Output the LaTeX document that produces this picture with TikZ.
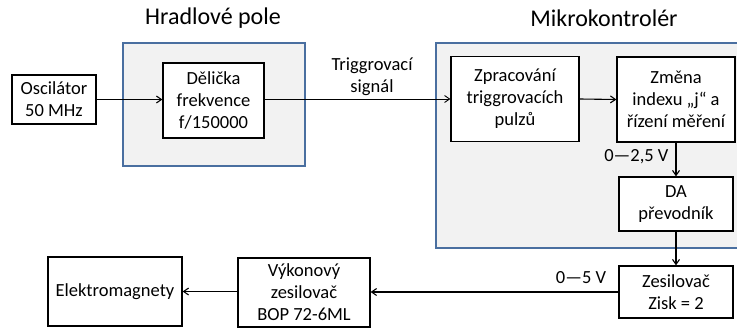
\documentclass[tikz,border=0pt]{standalone}
\usepackage{fontspec}
\setmainfont{Carlito}
\usepackage{tikz}
\usetikzlibrary{arrows.meta, positioning}

\definecolor{skupinaFill}{HTML}{F2F2F2}
\definecolor{skupinaDraw}{HTML}{4A6FA0}

\tikzset{
  blok/.style={draw=black, line width=1.3pt, fill=white, align=center,
    inner sep=0pt, font=\fontsize{18.5}{22}\selectfont},
  skupina/.style={draw=skupinaDraw, line width=1.3pt, fill=skupinaFill},
  nadpis/.style={font=\fontsize{24}{28}\selectfont},
  popis/.style={align=center, font=\fontsize{18.5}{22}\selectfont},
  sipka/.style={-{Straight Barb[length=5pt, width=7pt]}, line width=1.1pt},
}

\begin{document}
\begin{tikzpicture}[x=1pt, y=1pt]
    \useasboundingbox (0,0) rectangle (737,-329);

    % skupiny
    \draw[skupina] (123,-43) rectangle (305,-166);
    \draw[skupina] (436,-43) rectangle (750,-248);
    \node[nadpis] (hradlo) at (213,-18) {Hradlové pole};
    \node[nadpis] (mikro) at (604,-18) {Mikrokontrolér};

    % bloky
    \node[blok, minimum width=84pt, minimum height=49pt] (osc) at (54,-99.5) {Oscilátor\\50 MHz};
    \node[blok, minimum width=101pt, minimum height=75pt] (del) at (213.5,-100.5) {Dělička\\frekvence\\f/150000};
    \node[blok, minimum width=128pt, minimum height=85pt] (zpr) at (515,-99) {Zpracování\\triggrovacích\\pulzů};
    \node[blok, minimum width=118pt, minimum height=85pt] (zmena) at (676,-99.5) {Změna\\indexu „j“ a\\řízení měření};
    \node[blok, minimum width=114pt, minimum height=54pt] (da) at (676,-204) {DA\\převodník};
    \node[blok, minimum width=114pt, minimum height=52pt] (zes) at (676,-292) {Zesilovač\\Zisk = 2};
    \node[blok, minimum width=132pt, minimum height=69pt] (vyk) at (304,-292.5) {Výkonový\\zesilovač\\BOP 72-6ML};
    \node[blok, minimum width=134pt, minimum height=69pt] (ele) at (115,-291.5) {Elektromagnety};

    % spoje
    \draw[sipka] (osc.east) -- (del.west |- osc.east);
    \draw[sipka, line width=0.9pt] (del.east |- zpr.west) -- (zpr.west);
    \draw[sipka] (zpr.east) -- (zmena.west);
    \draw[sipka] (zmena.south) -- (da.north);
    \draw[sipka] (da.south) -- (zes.north);
    \draw[sipka] (zes.west) -- (vyk.east |- zes.west);
    \draw[sipka] (vyk.west |- ele.east) -- (ele.east);

    % popisky
    \node[popis] (trig) at (372,-77) {Triggrovací\\signál};
    \node[popis, anchor=east] (napeti1) at (672,-157) {0—2,5 V};
    \node[popis] (napeti2) at (581,-278) {0—5 V};
\end{tikzpicture}
\end{document}
